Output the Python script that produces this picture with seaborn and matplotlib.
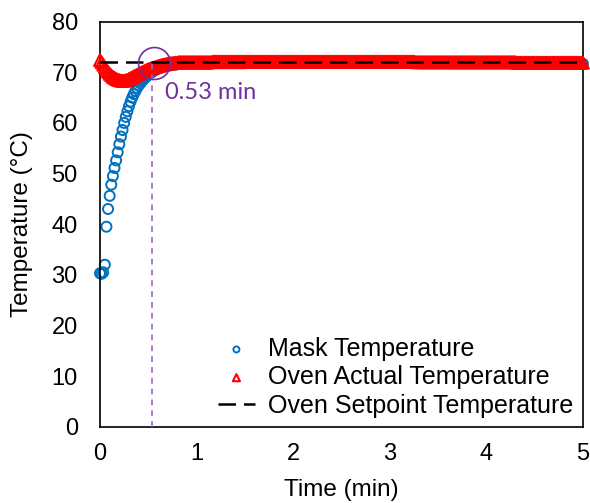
import numpy as np
import pandas as pd
import seaborn as sns
import matplotlib.pyplot as plt

# muestreo cada 1 s (en minutos), de 0 a 5 min
time_min = np.arange(301) / 60

# transitorio (primeros 49 s)
mask_transient = [30.3, 30.2, 30.5, 32.0, 39.5, 43.0, 45.6, 47.8, 49.5, 51.1,
                  52.6, 54.2, 55.8, 57.3, 58.6, 60.0, 61.2, 62.3, 63.3, 64.2,
                  65.0, 65.7, 66.3, 66.9, 67.4, 67.8, 68.2, 68.6, 68.9, 69.2,
                  69.5, 69.8, 70.0, 70.2, 70.4, 70.6, 70.8, 70.9, 71.0, 71.1,
                  71.2, 71.3, 71.35, 71.4, 71.45, 71.5, 71.5, 71.55, 71.6]
oven_transient = [72.4, 72.0, 71.5, 71.0, 70.5, 70.1, 69.7, 69.4, 69.1, 68.9,
                  68.7, 68.55, 68.45, 68.35, 68.3, 68.35, 68.4, 68.5, 68.7, 68.85,
                  69.0, 69.2, 69.35, 69.5, 69.7, 69.85, 70.0, 70.15, 70.3, 70.45,
                  70.6, 70.7, 70.8, 70.9, 71.0, 71.1, 71.2, 71.3, 71.4, 71.5,
                  71.55, 71.6, 71.7, 71.75, 71.8, 71.8, 71.85, 71.9, 71.9]

# régimen estable: nivel leído por tramo de 21 s (12 tramos)
mask_steady_levels = [71.7, 71.8, 71.9, 71.9, 71.9, 71.9, 71.9, 71.9, 71.8, 71.8, 71.7, 71.7]
oven_steady_levels = [72.0, 72.1, 72.1, 72.1, 72.1, 72.1, 72.1, 72.0, 72.0, 72.0, 71.9, 71.9]

setpoint = 72.0
t_settle = 0.535

mask_temp = np.concatenate([mask_transient, np.repeat(mask_steady_levels, 21)])
oven_temp = np.concatenate([oven_transient, np.repeat(oven_steady_levels, 21)])

df = pd.DataFrame({'Tiempo': time_min, 'Mascara': mask_temp, 'Horno': oven_temp,
                   'Consigna': setpoint})

sns.set_theme(style='white')
plt.rcParams['font.family'] = ['Liberation Sans', 'DejaVu Sans']

fig = plt.figure(figsize=(5.9, 5.03), dpi=100)
ax = fig.add_axes([0.1695, 0.1517, 0.8185, 0.8052])

sns.scatterplot(data=df, x='Tiempo', y='Mascara', ax=ax, marker='o', s=52,
                facecolors='none', edgecolor='#0070C0', linewidth=1.4,
                label='Mask Temperature', zorder=2, clip_on=False)
sns.scatterplot(data=df, x='Tiempo', y='Horno', ax=ax, marker='^', s=72,
                facecolors='none', edgecolor='#FF0000', linewidth=1.5,
                label='Oven Actual Temperature', zorder=3, clip_on=False)
sns.lineplot(data=df, x='Tiempo', y='Consigna', ax=ax, color='black', lw=1.8,
             label='Oven Setpoint Temperature', zorder=4)
ax.lines[-1].set_dashes((7, 3.2))

# marca del tiempo de estabilización
ax.plot([t_settle, t_settle], [0, setpoint], color='#9966CC', lw=1.2,
        dashes=(3.5, 3), zorder=5)
ax.plot(0.56, 71.8, marker='o', ms=23, mfc='none', mec='#7030A0', mew=1.2, zorder=6)
ax.text(0.67, 66.0, '0.53 min', color='#7030A0', fontsize=17,
        family=['Lato', 'DejaVu Sans'], ha='left', va='center')

ax.set_xlim(0, 5)
ax.set_ylim(0, 80)
ax.set_xticks(range(0, 6))
ax.set_yticks(range(0, 81, 10))
ax.tick_params(length=0, labelsize=17, colors='black')
ax.tick_params(axis='y', pad=16)
ax.tick_params(axis='x', pad=12)
ax.set_xlabel('Time (min)', fontsize=17.5, labelpad=10, color='black')
ax.set_ylabel('Temperature (°C)', fontsize=17.5, labelpad=13, color='black')
for sp in ax.spines.values():
    sp.set_color('black')
    sp.set_linewidth(1.2)

leg = ax.legend(loc='lower right', bbox_to_anchor=(1.0, -0.002), frameon=False,
                fontsize=18, handlelength=1.5, handletextpad=0.5, labelspacing=0.17,
                borderaxespad=0.0, markerscale=0.6)
for txt in leg.get_texts():
    txt.set_color('black')

fig.savefig('out.png', dpi=100)
